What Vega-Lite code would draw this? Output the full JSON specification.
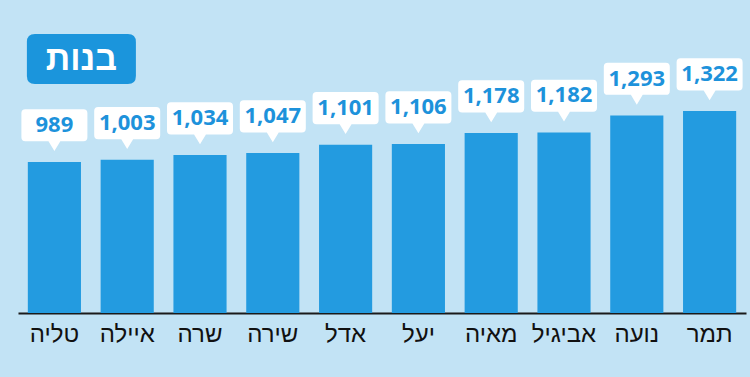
{
  "$schema": "https://vega.github.io/schema/vega-lite/v6.json",
  "width": 728,
  "height": 303,
  "autosize": "none",
  "padding": {"left": 18, "top": 10, "right": 4, "bottom": 64},
  "background": "#c2e3f5",
  "config": {"view": {"stroke": null}},
  "data": {
    "values": [
      {"name": "טליה", "value": 989},
      {"name": "איילה", "value": 1003},
      {"name": "שרה", "value": 1034},
      {"name": "שירה", "value": 1047},
      {"name": "אדל", "value": 1101},
      {"name": "יעל", "value": 1106},
      {"name": "מאיה", "value": 1178},
      {"name": "אביגיל", "value": 1182},
      {"name": "נועה", "value": 1293},
      {"name": "תמר", "value": 1322}
    ]
  },
  "encoding": {
    "x": {
      "field": "name",
      "type": "nominal",
      "sort": ["טליה", "איילה", "שרה", "שירה", "אדל", "יעל", "מאיה", "אביגיל", "נועה", "תמר"],
      "scale": {"paddingInner": 0.27, "paddingOuter": 0.135},
      "axis": {
        "title": null,
        "labelAngle": 0,
        "labelFont": "Liberation Sans",
        "labelFontSize": 24,
        "labelColor": "#111111",
        "labelPadding": 9,
        "ticks": false,
        "domainColor": "#1a1a1a",
        "domainWidth": 2
      }
    },
    "y": {
      "field": "value",
      "type": "quantitative",
      "scale": {"domain": [0, 1984], "nice": false},
      "axis": null
    }
  },
  "layer": [
    {
      "mark": {"type": "bar", "color": "#239be0"}
    },
    {
      "mark": {
        "type": "point",
        "filled": true,
        "fill": "#ffffff",
        "opacity": 1,
        "strokeWidth": 0,
        "size": 4356,
        "shape": "M -0.88 -1.6 L 0.88 -1.6 Q 1 -1.6 1 -1.48 L 1 -0.746 Q 1 -0.626 0.88 -0.626 L 0.18 -0.626 L 0 -0.33 L -0.18 -0.626 L -0.88 -0.626 Q -1 -0.626 -1 -0.746 L -1 -1.48 Q -1 -1.6 -0.88 -1.6 Z"
      }
    },
    {
      "mark": {
        "type": "text",
        "dy": -37,
        "font": "Open Sans",
        "fontWeight": "bold",
        "fontSize": 22,
        "color": "#1d92db",
        "baseline": "middle"
      },
      "encoding": {"text": {"field": "value", "type": "quantitative", "format": ","}}
    },
    {
      "data": {"values": [{"title": "בנות", "name": "טליה", "pos": 1663}]},
      "mark": {
        "type": "point",
        "filled": true,
        "fill": "#1b95dc",
        "opacity": 1,
        "strokeWidth": 0,
        "size": 11881,
        "xOffset": 27,
        "shape": "M -0.853 -0.459 L 0.853 -0.459 Q 1 -0.459 1 -0.312 L 1 0.312 Q 1 0.459 0.853 0.459 L -0.853 0.459 Q -1 0.459 -1 0.312 L -1 -0.312 Q -1 -0.459 -0.853 -0.459 Z"
      },
      "encoding": {
        "y": {"field": "pos", "type": "quantitative"}
      }
    },
    {
      "data": {"values": [{"title": "בנות", "name": "טליה", "pos": 1663}]},
      "mark": {
        "type": "text",
        "xOffset": 27,
        "font": "Liberation Sans",
        "fontWeight": "bold",
        "fontSize": 34,
        "color": "#ffffff",
        "baseline": "middle",
        "dy": 1
      },
      "encoding": {
        "y": {"field": "pos", "type": "quantitative"},
        "text": {"field": "title"}
      }
    }
  ]
}
